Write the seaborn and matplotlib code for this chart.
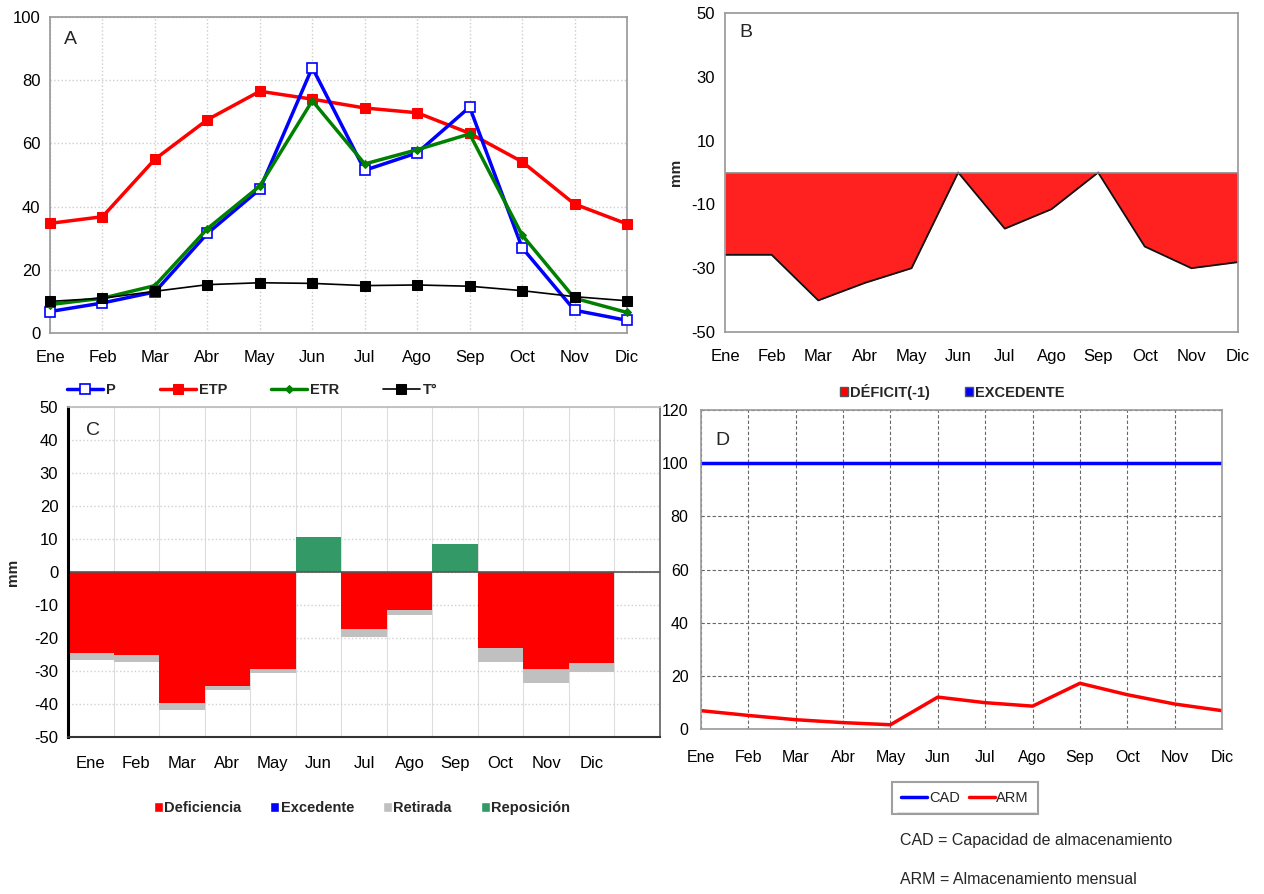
import numpy as np
import pandas as pd
import matplotlib
matplotlib.use("Agg")
import matplotlib.pyplot as plt
from matplotlib.lines import Line2D
from matplotlib.patches import Patch
import seaborn as sns

sns.set_theme(style="white")
plt.rcParams['font.family'] = ['Liberation Sans', 'DejaVu Sans']
plt.rcParams['axes.unicode_minus'] = False

months = ["Ene", "Feb", "Mar", "Abr", "May", "Jun", "Jul", "Ago", "Sep", "Oct", "Nov", "Dic"]

# Panel A
P = [6.8, 9.5, 13.0, 31.5, 45.5, 84.0, 51.5, 57.0, 71.5, 27.0, 7.2, 4.0]
ETP = [34.7, 36.8, 55.0, 67.5, 76.5, 74.0, 71.2, 69.7, 63.2, 54.2, 40.8, 34.5]
ETR = [9.0, 11.0, 15.0, 33.0, 46.5, 73.5, 53.5, 58.0, 63.0, 31.0, 11.0, 6.5]
T = [10.0, 11.0, 13.2, 15.3, 15.9, 15.7, 15.0, 15.2, 14.8, 13.4, 11.5, 10.2]

# Panel B
deficit = [-25.8, -25.8, -40.1, -34.6, -30.0, 0.0, -17.6, -11.5, 0.0, -23.2, -30.0, -28.1]

# Panel C
deficiencia = [-24.4, -25.1, -39.7, -34.4, -29.4, 0.0, -17.2, -11.4, 0.0, -22.9, -29.5, -27.6]
retirada = [-2.3, -2.1, -2.0, -1.4, -1.1, 0.0, -2.6, -1.6, 0.0, -4.3, -4.1, -2.7]
reposicion = [0.0, 0.0, 0.0, 0.0, 0.0, 10.6, 0.0, 0.0, 8.4, 0.0, 0.0, 0.0]

# Panel D
CAD = [100] * 12
ARM = [6.9, 5.1, 3.5, 2.4, 1.6, 12.0, 9.9, 8.6, 17.2, 12.9, 9.4, 6.9]

W, H = 1264, 894
fig = plt.figure(figsize=(W / 100, H / 100), dpi=100)

def rect(x0, y0, x1, y1):
    return [x0 / W, 1 - y1 / H, (x1 - x0) / W, (y1 - y0) / H]

idx = np.arange(12)
spine_gray = "#9a9a9a"
TS = 12

# ---------------- Panel A ----------------
axA = fig.add_axes(rect(50, 17, 627, 333))
dfA = pd.DataFrame({"i": idx, "P": P, "ETP": ETP, "ETR": ETR, "T": T})
sns.lineplot(data=dfA, x="i", y="P", ax=axA, color="#0000FF", lw=2.5, marker="s",
             markersize=7.5, markerfacecolor="white", markeredgecolor="#0000FF", markeredgewidth=1.2,
             label="P", clip_on=False, zorder=4)
sns.lineplot(data=dfA, x="i", y="ETP", ax=axA, color="#FF0000", lw=2.5, marker="s",
             markersize=7.5, markerfacecolor="#FF0000", markeredgecolor="#FF0000", label="ETP",
             clip_on=False, zorder=3)
sns.lineplot(data=dfA, x="i", y="ETR", ax=axA, color="#008000", lw=2.5, marker="D",
             markersize=4, markerfacecolor="#008000", markeredgecolor="#008000", label="ETR",
             clip_on=False, zorder=5)
sns.lineplot(data=dfA, x="i", y="T", ax=axA, color="#000000", lw=1.2, marker="s",
             markersize=7, markerfacecolor="#000000", markeredgecolor="#000000", label="T°",
             clip_on=False, zorder=6)
axA.set_xlim(0, 11)
axA.set_ylim(0, 100)
axA.set_xticks(idx)
axA.set_xticklabels(months)
axA.set_yticks([0, 20, 40, 60, 80, 100])
axA.grid(True, color="#cccccc", ls=":", lw=1)
axA.set_xlabel("")
axA.set_ylabel("")
for s in axA.spines.values():
    s.set_color(spine_gray)
axA.tick_params(axis="both", labelsize=TS, colors="#000000", length=0, pad=12)
axA.tick_params(axis="y", length=4, color=spine_gray, pad=3)
handles, labels = axA.get_legend_handles_labels()
axA.get_legend().remove()
fig.legend(handles, labels, loc="center", bbox_to_anchor=(252 / W, 1 - 390 / H), ncol=4,
           frameon=False, prop={"weight": "bold", "size": 10.5}, columnspacing=3.0,
           handlelength=2.5, handletextpad=0.2)
axA.text(0.025, 0.955, "A", transform=axA.transAxes, fontsize=14, va="top", ha="left")

# ---------------- Panel B ----------------
axB = fig.add_axes(rect(725, 13, 1238, 332))
dfB = pd.DataFrame({"i": idx, "deficit": deficit})
axB.fill_between(dfB["i"], 0, dfB["deficit"], color="#FF2020", lw=0)
sns.lineplot(data=dfB, x="i", y="deficit", ax=axB, color="#111111", lw=1.3)
axB.axhline(0, color="#888888", lw=1.2)
axB.set_xlim(0, 11)
axB.set_ylim(-50, 50)
axB.set_xticks(idx)
axB.set_xticklabels(months)
axB.set_yticks([-50, -30, -10, 10, 30, 50])
axB.set_xlabel("")
axB.set_ylabel("mm", fontsize=11, fontweight="bold", labelpad=6)
for s in axB.spines.values():
    s.set_color(spine_gray)
axB.tick_params(axis="both", labelsize=TS, colors="#000000", length=0, pad=12)
axB.tick_params(axis="y", length=4, color=spine_gray, pad=3)
fig.legend([Patch(facecolor="#FF0000", edgecolor="#555555"), Patch(facecolor="#0000FF", edgecolor="#555555")],
           ["DÉFICIT(-1)", "EXCEDENTE"], loc="center", bbox_to_anchor=(952 / W, 1 - 392 / H), ncol=2,
           frameon=False, prop={"weight": "bold", "size": 10.5}, columnspacing=2.4,
           handlelength=0.6, handleheight=0.6, handletextpad=0.1)
axB.text(0.028, 0.965, "B", transform=axB.transAxes, fontsize=14, va="top", ha="left")

# ---------------- Panel C ----------------
axC = fig.add_axes(rect(68, 407, 660, 737))
total_neg = [d + r for d, r in zip(deficiencia, retirada)]
dfC = pd.DataFrame({"mes": months, "total": total_neg, "def": deficiencia, "rep": reposicion})
sns.barplot(data=dfC, x="mes", y="total", order=months, ax=axC, color="#C0C0C0",
            width=1.0, linewidth=0, saturation=1)
sns.barplot(data=dfC, x="mes", y="def", order=months, ax=axC, color="#FF0000",
            width=1.0, linewidth=0, saturation=1)
sns.barplot(data=dfC, x="mes", y="rep", order=months, ax=axC, color="#339966",
            width=1.0, linewidth=0, saturation=1)
axC.set_xlim(-0.5, 12.5)
axC.set_ylim(-50, 50)
axC.set_yticks(np.arange(-50, 51, 10))
axC.set_xticks(idx)
axC.set_xticklabels(months)
axC.set_xticks(np.arange(0.5, 12.5, 1), minor=True)
axC.grid(True, which="major", axis="y", color="#d0d0d0", ls=":", lw=1)
axC.grid(True, which="minor", axis="x", color="#dddddd", ls="-", lw=0.8)
axC.set_axisbelow(True)
axC.axhline(0, color="#555555", lw=1.2)
axC.set_xlabel("")
axC.set_ylabel("mm", fontsize=11, fontweight="bold", labelpad=10)
axC.spines["left"].set_color("#000000")
axC.spines["left"].set_linewidth(2.2)
axC.spines["bottom"].set_color("#333333")
axC.spines["bottom"].set_linewidth(1.5)
axC.spines["top"].set_color("#bbbbbb")
axC.spines["right"].set_color("#666666")
axC.tick_params(axis="x", which="both", labelsize=TS, colors="#000000", length=0, pad=14)
axC.tick_params(axis="y", labelsize=TS, colors="#000000", length=4, width=1.5, color="#000000", pad=3)
axC.tick_params(axis="x", which="minor", length=0)
fig.legend([Patch(facecolor=c) for c in ["#FF0000", "#0000FF", "#C0C0C0", "#339966"]],
           ["Deficiencia", "Excedente", "Retirada", "Reposición"], loc="center",
           bbox_to_anchor=(362 / W, 1 - 808 / H), ncol=4, frameon=False,
           prop={"weight": "bold", "size": 10.5}, columnspacing=2.0,
           handlelength=0.6, handleheight=0.7, handletextpad=0.1)
axC.text(0.03, 0.955, "C", transform=axC.transAxes, fontsize=14, va="top", ha="left")

# ---------------- Panel D ----------------
axD = fig.add_axes(rect(701, 410, 1222, 729))
dfD = pd.DataFrame({"i": idx, "CAD": CAD, "ARM": ARM})
sns.lineplot(data=dfD, x="i", y="CAD", ax=axD, color="#0000FF", lw=2.5, label="CAD")
sns.lineplot(data=dfD, x="i", y="ARM", ax=axD, color="#FF0000", lw=2.5, label="ARM")
axD.set_xlim(0, 11)
axD.set_ylim(0, 120)
axD.set_xticks(idx)
axD.set_xticklabels(months)
axD.set_yticks(np.arange(0, 121, 20))
axD.grid(True, color="#666666", ls=(0, (3, 2)), lw=0.8)
axD.set_xlabel("")
axD.set_ylabel("")
for s in axD.spines.values():
    s.set_color("#999999")
    s.set_linewidth(1.2)
narrow = ['Liberation Sans Narrow', 'Liberation Sans', 'DejaVu Sans']
axD.tick_params(axis="both", labelsize=11.5, colors="#000000", length=5, color="#444444", pad=4)
axD.tick_params(axis="x", pad=10)
for lab in axD.get_xticklabels() + axD.get_yticklabels():
    lab.set_family(narrow)
hD, lD = axD.get_legend_handles_labels()
axD.get_legend().remove()
legD = fig.legend(hD, lD, loc="center", bbox_to_anchor=(965 / W, 1 - 798 / H), ncol=2,
                  frameon=True, fancybox=False, edgecolor="#888888",
                  prop={"family": narrow, "size": 10.5}, columnspacing=0.6,
                  handlelength=1.8, handletextpad=0.1, borderpad=0.6)
legD.get_frame().set_linewidth(1.5)
fig.add_artist(Line2D([898 / W, 1035 / W], [1 - 813 / H, 1 - 813 / H], color="#888888", lw=1.5))
axD.text(0.028, 0.93, "D", transform=axD.transAxes, fontsize=14, va="top", ha="left")

fig.text(900 / W, 1 - 840 / H, "CAD = Capacidad de almacenamiento", fontsize=11.5, va="center", ha="left")
fig.text(900 / W, 1 - 880 / H, "ARM = Almacenamiento mensual", fontsize=11.5, va="center", ha="left")

fig.savefig("out.png", dpi=100)
